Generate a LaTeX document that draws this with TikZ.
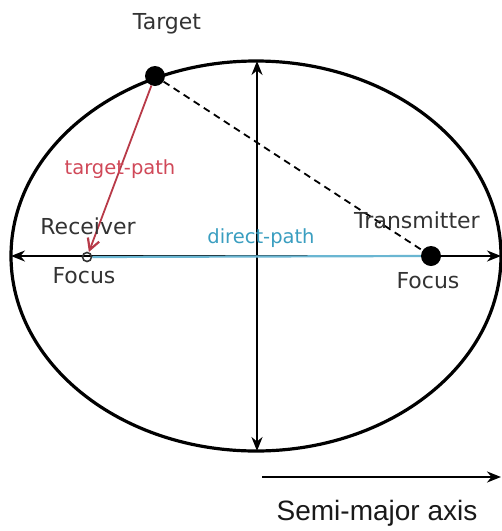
\documentclass[tikz,border=0pt]{standalone}
\usepackage{fontspec}
\setmainfont{DejaVu Sans}
\newfontfamily\axisfont{Liberation Sans}
\usetikzlibrary{arrows.meta}
\definecolor{lbl}{HTML}{333333}
\definecolor{redp}{HTML}{D04858}
\definecolor{redl}{HTML}{B83A48}
\definecolor{bluep}{HTML}{3A9EC0}
\definecolor{bluel}{HTML}{6AB6D2}
\tikzset{
  lab/.style={text=lbl, font=\fontsize{22}{24}\selectfont, inner sep=0pt},
  clab/.style={font=\fontsize{19.5}{22}\selectfont, inner sep=0pt},
  dot/.style={circle, fill=black, inner sep=0pt, minimum size=20pt},
  odot/.style={circle, draw=lbl, line width=1.6pt, inner sep=0pt, minimum size=9pt},
}
\begin{document}
\begin{tikzpicture}[x=1pt,y=-1pt]
\useasboundingbox (0,0) rectangle (502,531);
% ellipse
\draw[line width=3.2pt] (256,256) ellipse [x radius=245, y radius=195];
\coordinate (L) at (11,256);
\coordinate (R) at (501,256);
\coordinate (T) at (257,61);
\coordinate (B) at (257,451);
% axes
\draw[line width=2pt, {Stealth[length=14pt,width=11pt]}-{Stealth[length=14pt,width=11pt]}] (L) -- (R);
\draw[line width=2pt, {Stealth[length=14pt,width=11pt]}-{Stealth[length=14pt,width=11pt]}] (B) -- (T);
% points
\node[dot] (tgt) at (155,76) {};
\node[odot] (rcv) at (87,257) {};
\node[dot] (trm) at (431,256) {};
% direct path
\draw[bluel, line width=2.2pt] (rcv.east) -- (trm.west);
% dashed
\draw[line width=1.8pt, dash pattern=on 7pt off 5pt] (tgt) -- (trm);
% target path
\draw[redl, line width=1.8pt, -{Straight Barb[length=11pt,width=12pt, line width=2.2pt]}] (tgt) -- (rcv);
% labels
\node[lab] (ltgt) at (167,24) {Target};
\node[lab] (lrcv) at (88,226) {Receiver};
\node[lab] (lf1) at (84,276) {Focus};
\node[lab] (ltrm) at (417,220) {Transmitter};
\node[lab] (lf2) at (428,281) {Focus};
\node[clab, text=redp] (ltp) at (120,169) {target-path};
\node[clab, text=bluep] (ldp) at (261,238) {direct-path};
% semi-major axis
\coordinate (sa) at (262,477);
\coordinate (sb) at (501,477);
\draw[line width=2.2pt, -{Stealth[length=14pt,width=11pt]}] (sa) -- (sb);
\node[font=\axisfont\fontsize{28}{30}\selectfont, text=black!90, inner sep=0pt] (lsa) at (377,513) {Semi-major axis};
\end{tikzpicture}
\end{document}
